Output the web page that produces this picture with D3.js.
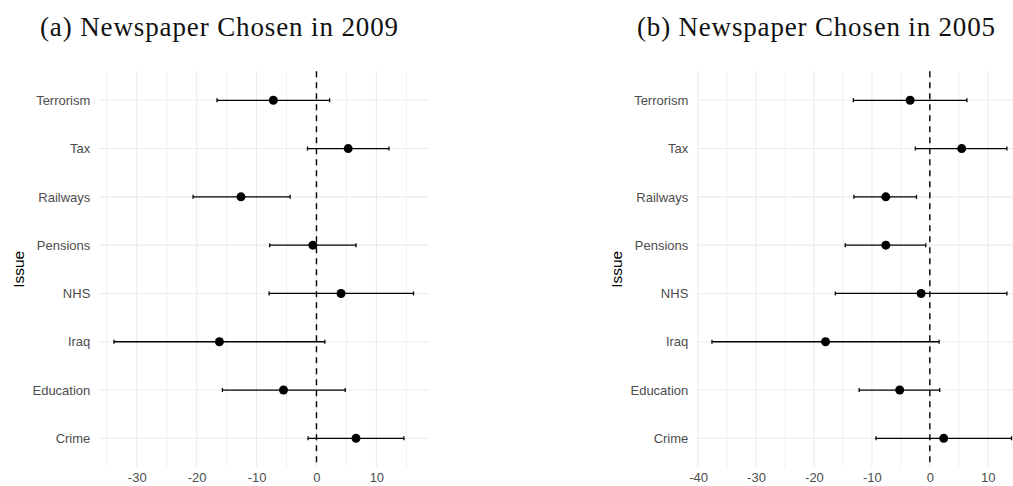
<!DOCTYPE html>
<html>
<head>
<meta charset="utf-8">
<script src="https://cdn.jsdelivr.net/npm/d3@7"></script>
<style>
  html, body { margin: 0; padding: 0; background: #fff; }
  svg { display: block; }
</style>
</head>
<body>
<svg id="chart" width="1013" height="486"></svg>
<script>
// Issues, listed top to bottom
const issues = ["Terrorism", "Tax", "Railways", "Pensions", "NHS", "Iraq", "Education", "Crime"];

// Panel (a): newspaper chosen in 2009
const est2009   = [-7.2,  5.3, -12.6, -0.6,  4.1, -16.2,  -5.5,  6.6];
const lower2009 = [-16.6, -1.5, -20.6, -7.8, -7.9, -33.8, -15.7, -1.4];
const upper2009 = [ 2.2, 12.1,  -4.4,  6.6, 16.2,   1.4,   4.8, 14.6];

// Panel (b): newspaper chosen in 2005
const est2005   = [-3.4,  5.5,  -7.6,  -7.6,  -1.5, -18.0,  -5.2,  2.4];
const lower2005 = [-13.2, -2.5, -13.1, -14.6, -16.3, -37.6, -12.2, -9.3];
const upper2005 = [ 6.4, 13.3,  -2.3,  -0.7,  13.3,   1.6,   1.7, 14.1];

const xTicks = [-40, -30, -20, -10, 0, 10];

const titles = ["(a) Newspaper Chosen in 2009", "(b) Newspaper Chosen in 2005"];

const svg = d3.select("#chart");

const panelTop = 71.3, panelBottom = 467.3, panelWidth = 329.5;

function drawPanel(cfg) {
  const rows = issues.map((d, i) => ({
    issue: d, est: cfg.est[i], lo: cfg.lower[i], hi: cfg.upper[i]
  }));

  // continuous x with 5% expansion on each side
  const lo = d3.min(rows, d => d.lo), hi = d3.max(rows, d => d.hi);
  const pad = (hi - lo) * 0.05;
  const x = d3.scaleLinear()
    .domain([lo - pad, hi + pad])
    .range([cfg.left, cfg.left + panelWidth]);

  const y = d3.scalePoint()
    .domain(issues)
    .range([panelTop, panelBottom])
    .padding(0.6);

  const g = svg.append("g");

  const [d0, d1] = x.domain();
  const majors = xTicks.filter(t => t >= d0 && t <= d1);
  const minors = d3.range(-45, 30, 10).filter(t => t >= d0 && t <= d1);

  // grid
  g.append("g").selectAll("line.minor").data(minors).join("line")
    .attr("x1", d => x(d)).attr("x2", d => x(d))
    .attr("y1", panelTop).attr("y2", panelBottom)
    .attr("stroke", "#ebebeb").attr("stroke-width", 0.8);
  g.append("g").selectAll("line.major").data(majors).join("line")
    .attr("x1", d => x(d)).attr("x2", d => x(d))
    .attr("y1", panelTop).attr("y2", panelBottom)
    .attr("stroke", "#ebebeb").attr("stroke-width", 1.1);
  g.append("g").selectAll("line.hgrid").data(issues).join("line")
    .attr("x1", x.range()[0]).attr("x2", x.range()[1])
    .attr("y1", d => y(d)).attr("y2", d => y(d))
    .attr("stroke", "#ebebeb").attr("stroke-width", 1.1);

  // reference line at zero
  g.append("line")
    .attr("x1", x(0)).attr("x2", x(0))
    .attr("y1", panelTop).attr("y2", panelBottom)
    .attr("stroke", "#000").attr("stroke-width", 1.4)
    .attr("stroke-dasharray", "6,5");

  // axes (tick labels only)
  const xAxis = g.append("g")
    .attr("transform", `translate(0,${panelBottom})`)
    .call(d3.axisBottom(x).tickValues(majors).tickSize(0).tickPadding(5).tickFormat(d => String(d)));
  xAxis.select(".domain").remove();
  xAxis.selectAll("text")
    .attr("font-family", "Liberation Sans, Arial, sans-serif")
    .attr("font-size", 13).attr("fill", "#4d4d4d");

  const yAxis = g.append("g")
    .attr("transform", `translate(${cfg.left},0)`)
    .call(d3.axisLeft(y).tickSize(0).tickPadding(8.7));
  yAxis.select(".domain").remove();
  yAxis.selectAll("text")
    .attr("font-family", "Liberation Sans, Arial, sans-serif")
    .attr("font-size", 13).attr("fill", "#4d4d4d");

  // error bars
  const bars = g.append("g").selectAll("g").data(rows).join("g");
  bars.append("line")
    .attr("x1", d => x(d.lo)).attr("x2", d => x(d.hi))
    .attr("y1", d => y(d.issue)).attr("y2", d => y(d.issue))
    .attr("stroke", "#000").attr("stroke-width", 1.3);
  bars.append("line")
    .attr("x1", d => x(d.lo)).attr("x2", d => x(d.lo))
    .attr("y1", d => y(d.issue) - 2).attr("y2", d => y(d.issue) + 2)
    .attr("stroke", "#000").attr("stroke-width", 1.3);
  bars.append("line")
    .attr("x1", d => x(d.hi)).attr("x2", d => x(d.hi))
    .attr("y1", d => y(d.issue) - 2).attr("y2", d => y(d.issue) + 2)
    .attr("stroke", "#000").attr("stroke-width", 1.3);

  // point estimates
  g.append("g").selectAll("circle").data(rows).join("circle")
    .attr("cx", d => x(d.est)).attr("cy", d => y(d.issue))
    .attr("r", 4.5).attr("fill", "#000");

  // y-axis title
  g.append("text")
    .attr("transform", `translate(${cfg.issueX},${(panelTop + panelBottom) / 2}) rotate(-90)`)
    .attr("text-anchor", "middle")
    .attr("font-family", "Liberation Sans, Arial, sans-serif")
    .attr("font-size", 15.5).attr("fill", "#000")
    .text("Issue");

  // caption
  svg.append("text")
    .attr("x", cfg.titleX).attr("y", 36)
    .attr("font-family", "Liberation Serif, Times New Roman, serif")
    .attr("font-size", 27).attr("fill", "#111")
    .attr("textLength", 358).attr("lengthAdjust", "spacing")
    .text(cfg.title);
}

drawPanel({ est: est2009, lower: lower2009, upper: upper2009, left: 99,
            issueX: 24, titleX: 40, title: titles[0] });
drawPanel({ est: est2005, lower: lower2005, upper: upper2005, left: 697,
            issueX: 622, titleX: 637, title: titles[1] });
</script>
</body>
</html>
